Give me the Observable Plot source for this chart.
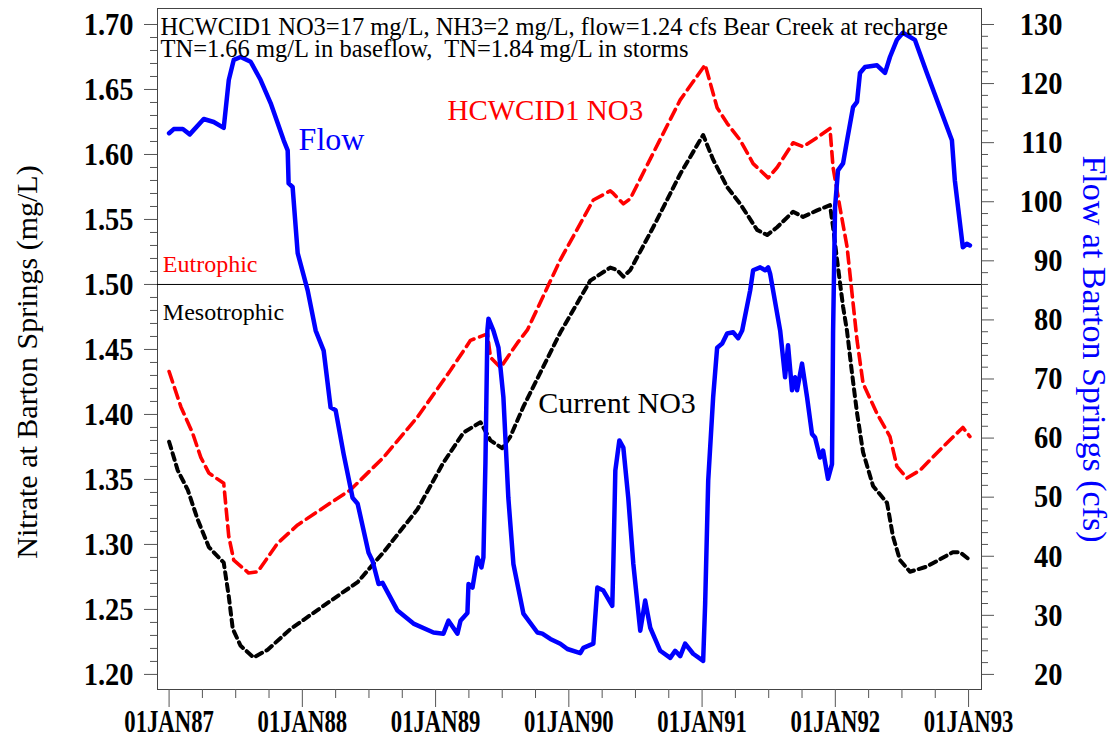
<!DOCTYPE html>
<html><head><meta charset="utf-8">
<script src="https://cdn.jsdelivr.net/npm/d3@7"></script>
<script src="https://cdn.jsdelivr.net/npm/@observablehq/plot@0.6"></script>
<style>
html,body{margin:0;padding:0;background:#fff;}
#chart svg{display:block;}
</style></head><body><div id="chart"></div>
<script>
// ---- data (decimal years) ----
const hcwYears = [1987.000,1987.088,1987.175,1987.238,1987.298,1987.410,1987.448,1987.485,1987.597,1987.665,1987.815,1987.965,1988.212,1988.362,1988.609,1988.864,1989.112,1989.262,1989.389,1989.412,1989.487,1989.614,1989.689,1989.936,1990.184,1990.311,1990.334,1990.409,1990.461,1990.633,1990.836,1991.023,1991.113,1991.188,1991.286,1991.383,1991.496,1991.563,1991.683,1991.758,1991.863,1991.960,1991.983,1992.035,1992.088,1992.163,1992.208,1992.311,1992.410,1992.462,1992.537,1992.635,1992.807,1992.957,1993.010];
const hcwNO3 = [1.433,1.406,1.386,1.367,1.355,1.347,1.306,1.288,1.278,1.279,1.301,1.315,1.332,1.342,1.367,1.398,1.434,1.457,1.462,1.444,1.436,1.455,1.465,1.519,1.565,1.572,1.570,1.562,1.566,1.601,1.642,1.669,1.636,1.624,1.611,1.593,1.582,1.590,1.609,1.606,1.613,1.620,1.590,1.559,1.529,1.457,1.424,1.401,1.383,1.360,1.351,1.357,1.375,1.390,1.383];

const curYears = [1987.000,1987.065,1987.140,1987.215,1987.298,1987.410,1987.448,1987.478,1987.537,1987.635,1987.740,1987.912,1988.010,1988.190,1988.415,1988.609,1988.864,1989.059,1989.209,1989.337,1989.412,1989.501,1989.561,1989.659,1989.936,1990.161,1990.311,1990.364,1990.409,1990.461,1990.633,1990.836,1991.008,1991.083,1991.188,1991.286,1991.413,1991.488,1991.563,1991.683,1991.758,1991.863,1991.960,1991.983,1992.013,1992.058,1992.088,1992.125,1992.163,1992.208,1992.283,1992.388,1992.433,1992.485,1992.560,1992.687,1992.882,1992.935,1993.010];
const curNO3 = [1.379,1.357,1.342,1.319,1.298,1.286,1.260,1.235,1.222,1.213,1.219,1.235,1.242,1.255,1.271,1.294,1.327,1.363,1.386,1.394,1.380,1.374,1.383,1.406,1.463,1.503,1.513,1.511,1.506,1.511,1.544,1.585,1.615,1.596,1.575,1.562,1.542,1.538,1.544,1.556,1.552,1.557,1.561,1.544,1.519,1.483,1.464,1.432,1.401,1.371,1.345,1.332,1.306,1.288,1.279,1.283,1.294,1.294,1.288];

const flowYears = [1987.000,1987.035,1987.103,1987.155,1987.260,1987.335,1987.410,1987.448,1987.485,1987.537,1987.612,1987.687,1987.762,1987.860,1987.890,1987.897,1987.927,1987.965,1988.040,1988.100,1988.160,1988.212,1988.250,1988.310,1988.377,1988.415,1988.497,1988.527,1988.572,1988.602,1988.714,1988.834,1988.984,1989.059,1989.097,1989.164,1989.187,1989.239,1989.247,1989.277,1989.314,1989.344,1989.359,1989.374,1989.389,1989.397,1989.434,1989.472,1989.509,1989.546,1989.584,1989.659,1989.764,1989.801,1989.861,1989.936,1989.989,1990.086,1990.109,1990.184,1990.214,1990.259,1990.326,1990.334,1990.349,1990.379,1990.409,1990.446,1990.484,1990.536,1990.573,1990.611,1990.686,1990.761,1990.798,1990.836,1990.873,1990.933,1991.008,1991.023,1991.046,1991.083,1991.113,1991.151,1991.188,1991.233,1991.271,1991.301,1991.361,1991.383,1991.436,1991.473,1991.496,1991.511,1991.586,1991.623,1991.645,1991.675,1991.698,1991.713,1991.750,1991.788,1991.825,1991.848,1991.885,1991.908,1991.945,1991.975,1991.983,1991.998,1992.020,1992.058,1992.088,1992.133,1992.163,1992.185,1992.223,1992.313,1992.373,1992.410,1992.462,1992.507,1992.597,1992.687,1992.875,1992.897,1992.957,1992.987,1993.010];
const flowCfs = [111.6,112.3,112.3,111.4,114.0,113.5,112.5,120.6,124.0,124.5,123.7,120.6,116.7,110.4,108.7,103.1,102.5,91.3,85.0,78.2,74.8,65.2,64.7,57.3,49.9,48.9,40.6,39.2,35.3,35.5,30.8,28.6,27.1,26.9,29.1,26.9,29.1,30.4,35.3,34.7,39.8,38.1,39.8,55.7,78.2,80.2,78.2,75.3,66.9,49.9,38.7,30.3,27.1,26.9,26.0,25.2,24.3,23.6,24.5,25.2,34.7,34.2,31.6,38.7,54.5,59.6,58.4,49.9,38.7,27.4,32.5,27.9,24.0,22.8,24.0,23.1,25.2,23.5,22.3,31.9,52.8,66.9,75.3,76.0,77.7,77.9,76.9,78.2,85.0,88.4,88.9,88.4,88.9,87.8,78.2,70.3,75.7,68.1,70.3,68.1,72.6,66.9,60.7,60.1,56.7,57.9,53.1,55.6,77.7,99.1,105.3,106.5,110.4,116.0,116.9,121.8,122.8,123.1,121.8,124.5,127.4,128.6,127.4,121.8,110.4,103.6,92.3,92.9,92.6];

// ---- ticks & labels ----
const yearTicks = [1987,1988,1989,1990,1991,1992,1993];
const yearLabels = ["01JAN87","01JAN88","01JAN89","01JAN90","01JAN91","01JAN92","01JAN93"];
const nitrateTicks = [1.20,1.25,1.30,1.35,1.40,1.45,1.50,1.55,1.60,1.65,1.70];
const flowTicks = [20,30,40,50,60,70,80,90,100,110,120,130];
const trophicLevel = 1.50;

const noteLine1 = "HCWCID1 NO3=17 mg/L, NH3=2 mg/L, flow=1.24 cfs Bear Creek at recharge";
const noteLine2 = "TN=1.66 mg/L in baseflow,  TN=1.84 mg/L in storms";

// ---- helpers ----
const flowToN = d3.scaleLinear().domain([20,130]).range([1.20,1.70]);
const quarterTicks = d3.range(1987, 1993, 0.25).filter(t => !Number.isInteger(t));
const nitrateMinor = d3.range(121, 170).filter(v => v % 5 !== 0).map(v => v / 100);
const flowMinor = d3.range(22, 130, 2).filter(v => v % 10 !== 0);

const hcw = hcwYears.map((t, i) => ({t, v: hcwNO3[i]}));
const cur = curYears.map((t, i) => ({t, v: curNO3[i]}));
const flow = flowYears.map((t, i) => ({t, v: flowToN(flowCfs[i])}));

const serif = "'Liberation Serif', 'Times New Roman', serif";
const tickColor = "#555";

const plot = Plot.plot({
  width: 1114, height: 752,
  marginLeft: 157, marginRight: 133, marginTop: 8, marginBottom: 63,
  style: {fontFamily: serif, background: "white", overflow: "visible"},
  x: {type: "linear", domain: [1986.913, 1993.097], axis: null},
  y: {type: "linear", domain: [1.1884, 1.7123], axis: null},
  marks: [
    Plot.frame({stroke: "#444", strokeWidth: 1}),
    Plot.ruleY([trophicLevel], {stroke: "black", strokeWidth: 1}),
    // x axis
    Plot.axisX({ticks: quarterTicks, tickSize: 9, tickFormat: () => "", stroke: tickColor, label: null}),
    Plot.axisX({ticks: yearTicks, tickSize: 18, tickPadding: 2, stroke: tickColor,
      tickFormat: (d) => yearLabels[yearTicks.indexOf(d)], fontSize: 32, fontWeight: "bold",
      fill: "black", label: null}),
    // left axis
    Plot.axisY({anchor: "left", ticks: nitrateMinor, tickSize: 7, tickFormat: () => "", stroke: tickColor, label: null}),
    Plot.axisY({anchor: "left", ticks: nitrateTicks, tickSize: 13, tickPadding: 11, stroke: tickColor,
      tickFormat: d3.format(".2f"), fontSize: 32, fontWeight: "bold", fill: "black", label: null}),
    // right axis (flow)
    Plot.axisY({anchor: "right", ticks: flowMinor.map(flowToN), tickSize: 6, tickFormat: () => "", stroke: tickColor, label: null}),
    Plot.axisY({anchor: "right", ticks: flowTicks.map(flowToN), tickSize: 12, tickPadding: 69, textAnchor: "end",
      stroke: tickColor, tickFormat: (d) => String(Math.round(flowToN.invert(d))),
      fontSize: 32, fontWeight: "bold", fill: "black", label: null}),
    // series
    Plot.line(cur, {x: "t", y: "v", stroke: "black", strokeWidth: 4, strokeDasharray: "7,5"}),
    Plot.line(hcw, {x: "t", y: "v", stroke: "#ff0000", strokeWidth: 3.6, strokeDasharray: "11,6"}),
    Plot.line(flow, {x: "t", y: "v", stroke: "#0000ff", strokeWidth: 4.5, strokeLinejoin: "round"}),
    // notes
    Plot.text([noteLine1], {text: d => d, frameAnchor: "top-left", dx: 3, dy: 26, textAnchor: "start", lineAnchor: "bottom", fontSize: 24.5, fill: "black"}),
    Plot.text([noteLine2], {text: d => d, frameAnchor: "top-left", dx: 3, dy: 48, textAnchor: "start", lineAnchor: "bottom", fontSize: 24.5, fill: "black"}),
    Plot.text(["HCWCID1 NO3"], {text: d => d, x: 1989.089, y: 1.6263, textAnchor: "start", lineAnchor: "bottom", fontSize: 29, fill: "#ff0000"}),
    Plot.text(["Flow"], {text: d => d, x: 1987.972, y: 1.6032, textAnchor: "start", lineAnchor: "bottom", fontSize: 32, fill: "#0000ff"}),
    Plot.text(["Eutrophic"], {text: d => d, x: 1986.953, y: 1.5094, textAnchor: "start", lineAnchor: "bottom", fontSize: 24, fill: "#ff0000"}),
    Plot.text(["Mesotrophic"], {text: d => d, x: 1986.953, y: 1.4727, textAnchor: "start", lineAnchor: "bottom", fontSize: 24, fill: "black"}),
    Plot.text(["Current NO3"], {text: d => d, x: 1989.771, y: 1.4013, textAnchor: "start", lineAnchor: "bottom", fontSize: 30, fill: "black"}),
    // axis titles
    Plot.text(["Nitrate at Barton Springs (mg/L)"], {text: d => d, frameAnchor: "left", dx: -130, dy: 13, rotate: -90, textAnchor: "middle", lineAnchor: "middle", fontSize: 30, fill: "black"}),
    Plot.text(["Flow at Barton Springs (cfs)"], {text: d => d, frameAnchor: "right", dx: 112, dy: 0, rotate: 90, textAnchor: "middle", lineAnchor: "middle", fontSize: 34, fill: "#0000ff"})
  ]
});

// condense bold tick labels (original uses a condensed bold serif)
function condense(sel, s) {
  plot.querySelectorAll(sel).forEach(el => {
    const tr = el.getAttribute("transform");
    if (tr) el.setAttribute("transform", tr + ` scale(${s},1)`);
    else {
      const x = +el.getAttribute("x") || 0, y = +el.getAttribute("y") || 0;
      el.removeAttribute("x"); el.removeAttribute("y");
      el.setAttribute("transform", `translate(${x},${y}) scale(${s},1)`);
    }
  });
}
condense('g[aria-label="x-axis tick label"] text', 0.71);
condense('g[aria-label="y-axis tick label"] text', 0.89);

document.getElementById("chart").append(plot);
</script></body></html>
